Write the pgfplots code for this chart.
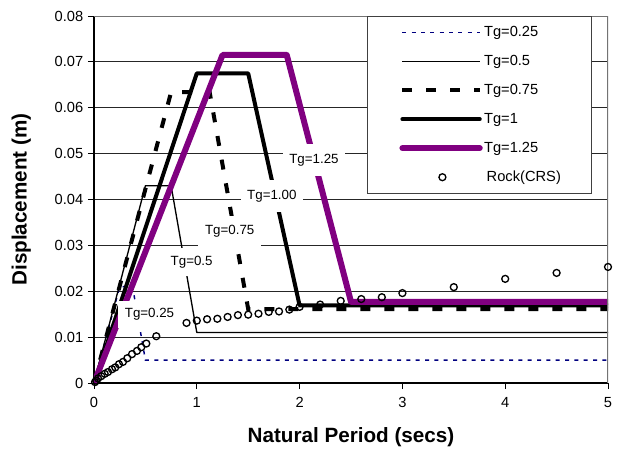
\documentclass[border=0pt]{standalone}
\usepackage{fontspec}
\setmainfont{Liberation Sans}
\usepackage{pgfplots}
\pgfplotsset{compat=1.18}

\definecolor{tgnavy}{RGB}{0,0,128}
\definecolor{tgpurple}{RGB}{128,0,128}

\pgfplotsset{
    linelegend/.style={legend image code/.code={\path[draw=none] (-4pt,0pt) -- (0pt,0pt);
        \draw[##1] (0pt,0pt) -- (58pt,0pt);}},
    marklegend/.style={legend image code/.code={\path[draw=none] (-4pt,0pt) -- (58pt,0pt);
        \draw[##1] plot coordinates {(30pt,0pt)};}},
}

\begin{document}
\begin{tikzpicture}
\begin{axis}[
    scale only axis,
    width=385.5pt, height=275.25pt,
    xmin=0, xmax=5, ymin=0, ymax=0.08,
    xtick={0,1,2,3,4,5},
    ytick={0,0.01,0.02,0.03,0.04,0.05,0.06,0.07,0.08},
    yticklabels={0,0.01,0.02,0.03,0.04,0.05,0.06,0.07,0.08},
    scaled y ticks=false,
    axis x line*=bottom, axis y line*=left,
    axis line style={black, line width=0.8pt},
    tick align=outside, major tick length=4.5pt,
    tick style={black, line width=0.7pt},
    ymajorgrids, grid style={black!85, line width=0.6pt},
    /pgf/number format/assume math mode=true,
    ticklabel style={font=\fontsize{11}{13}\selectfont},
    xticklabel style={yshift=-3pt},
    xlabel={Natural Period (secs)},
    ylabel={Displacement (m)},
    every axis x label/.style={at={([yshift=-40.5pt]axis description cs:0.5,0)}, anchor=center,
        font=\fontsize{15.5}{18}\selectfont\bfseries},
    every axis y label/.style={at={([xshift=-54.5pt]axis description cs:0,0.5)}, rotate=90, anchor=center,
        font=\fontsize{15.5}{18}\selectfont\bfseries},
    legend style={at={(0.969,1)}, anchor=north east, draw=black!75, line width=0.75pt,
        fill=white, font=\fontsize{11}{13}\selectfont,
        inner xsep=22pt, inner ysep=5.5pt, row sep=8.5pt,
        nodes={inner xsep=1pt},
        /tikz/every even column/.append style={column sep=0pt}},
    legend cell align=left,
    linelegend,
]

% Tg = 0.25
\addplot[tgnavy, line width=1.1pt, dash pattern=on 3pt off 4pt]
    coordinates {(0,0) (0.25,0.021) (0.375,0.021) (0.5,0.005) (5,0.005)};
\addlegendentry{Tg=0.25}

% Tg = 0.5
\addplot[black, line width=1pt, line join=round]
    coordinates {(0,0) (0.5,0.043) (0.75,0.043) (1.0,0.011) (5,0.011)};
\addlegendentry{Tg=0.5}

% Tg = 0.75
\addplot[black, line width=3pt, dash pattern=on 7.5pt off 10.5pt]
    coordinates {(0,0) (0.75,0.0634) (1.125,0.0634) (1.5,0.0161) (5,0.0161)};
\addlegendentry{Tg=0.75}

% Tg = 1
\addplot[black, line width=3pt, line join=round, line cap=round]
    coordinates {(0,0) (1,0.0675) (1.5,0.0675) (2,0.0169) (5,0.0169)};
\addlegendentry{Tg=1}

% Tg = 1.25
\addplot[tgpurple, line width=4.5pt, line join=round, line cap=round]
    coordinates {(0,0) (1.25,0.0715) (1.875,0.0715) (2.5,0.0177) (5,0.0177)};
\addlegendentry{Tg=1.25}

% labels on the curves
\begin{scope}[every node/.style={fill=white, inner xsep=5pt, inner ysep=0pt,
        minimum height=24pt, font=\fontsize{10}{12}\selectfont}]
\node at (axis cs:2.14,0.0486) {Tg=1.25};
\node at (axis cs:1.73,0.0407) {Tg=1.00};
\node at (axis cs:1.32,0.0330) {Tg=0.75};
\node[minimum height=21pt] at (axis cs:0.95,0.0264) {Tg=0.5};
\node[minimum height=20pt] at (axis cs:0.54,0.0150) {Tg=0.25};
\end{scope}

% Rock (CRS)
\addplot[only marks, mark=o, mark size=2.6pt, mark options={black, fill=white, line width=1pt},
    marklegend]
    coordinates {
    (0.01,0.0002) (0.02,0.0005) (0.039,0.0010) (0.071,0.0015) (0.104,0.0020)
    (0.136,0.0024) (0.175,0.0030) (0.207,0.0034) (0.243,0.0041) (0.282,0.0046)
    (0.324,0.0054) (0.37,0.0063) (0.418,0.0070) (0.46,0.0078) (0.509,0.0086)
    (0.606,0.0102)
    (0.9,0.0131) (1.0,0.0136) (1.1,0.0139) (1.2,0.0140) (1.3,0.0144)
    (1.4,0.0148) (1.5,0.0149) (1.6,0.0151) (1.7,0.0155) (1.8,0.0156)
    (1.9,0.0160) (2.0,0.0166) (2.2,0.0171) (2.4,0.0179) (2.6,0.0183)
    (2.8,0.0187) (3.0,0.0196) (3.5,0.0209) (4.0,0.0227) (4.5,0.0240)
    (5.0,0.0253)};
\addlegendentry{\hspace{2pt}Rock(CRS)}

% grey frame on top and right
\draw[black!55, line width=0.8pt] (rel axis cs:0,1) -- (rel axis cs:1,1) -- (rel axis cs:1,0);

\end{axis}
\pgfresetboundingbox
\path (-70.5pt,-50.25pt) rectangle (397.5pt,287.25pt);
\end{tikzpicture}
\end{document}
